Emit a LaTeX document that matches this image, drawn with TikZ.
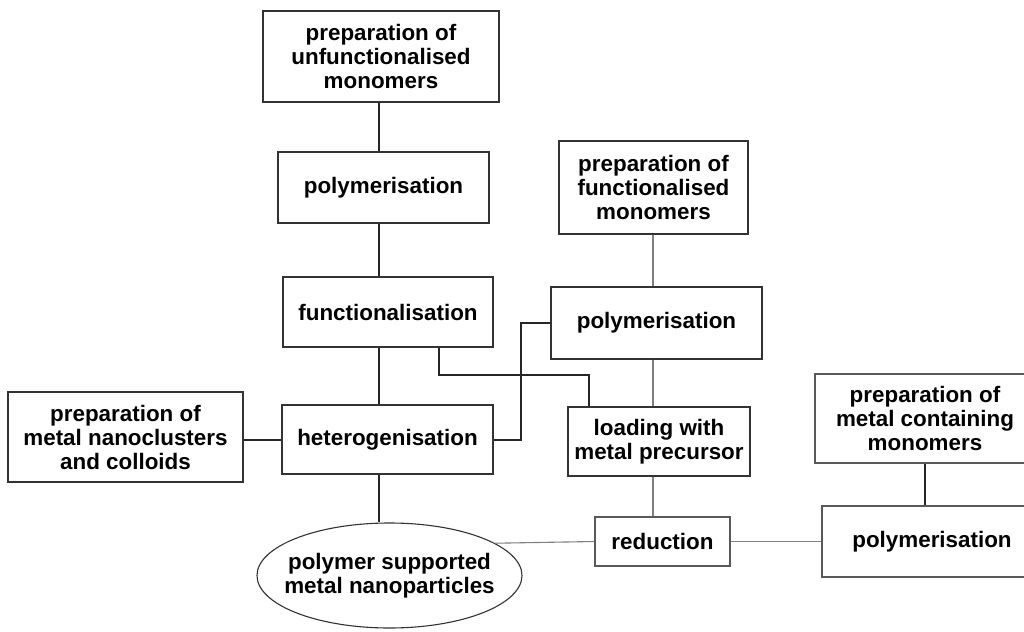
\documentclass[tikz,border=0pt]{standalone}
\usepackage{fontspec}
\setmainfont{Liberation Sans}
\usetikzlibrary{shapes.geometric}
\tikzset{
  box/.style={draw=black!80,line width=0.55pt,align=center,inner sep=0pt,font=\fontsize{11.2}{12}\selectfont\bfseries},
  link/.style={draw=black!85,line width=0.55pt},
  greylink/.style={draw=black!50,line width=0.55pt}
}
\begin{document}
\begin{tikzpicture}[x=0.5pt,y=-0.5pt]
\clip (0,0) rectangle (1024,632);
% left column
\node[box,minimum width=118pt,minimum height=45.5pt] (unfmono) at (381,56.5) {preparation of\\ unfunctionalised\\ monomers};
\node[box,minimum width=105.5pt,minimum height=35.5pt] (polyA) at (383.5,187.5) {polymerisation};
\node[box,minimum width=105pt,minimum height=35pt] (funcA) at (388,312) {functionalisation};
\node[box,minimum width=105.5pt,minimum height=34.5pt] (heterog) at (387.5,439.5) {heterogenisation};
\node[box,minimum width=117.5pt,minimum height=45pt] (nanocl) at (125.5,437) {preparation of\\ metal nanoclusters\\ and colloids};
\node[box,ellipse,inner xsep=-9pt,minimum width=132.5pt,minimum height=52.5pt] (psmn) at (389.5,575.5) {polymer supported\\ metal nanoparticles};
% middle column
\node[box,minimum width=94.5pt,minimum height=46.5pt] (funcmono) at (653.5,187.5) {preparation of\\ functionalised\\ monomers};
\node[box,minimum width=105.5pt,minimum height=36pt] (polyB) at (656.5,323) {polymerisation};
\node[box,minimum width=91pt,minimum height=34.5pt] (loading) at (659,441.5) {loading with\\ metal precursor};
\node[box,draw=black!65,minimum width=67.5pt,minimum height=24.5pt] (reduction) at (662.5,541.5) {reduction};
% right column, cut by the page edge
\node[box,draw=black!65,minimum width=110pt,minimum height=44.5pt] (metalmono) at (925,418.5) {preparation of\\ metal containing\\ monomers};
\node[box,draw=black!65,minimum width=110pt,minimum height=35.5pt] (polyC) at (932,541.5) {polymerisation};
% connectors
\coordinate (spine) at (379,0); \coordinate (midline) at (653,0);
\coordinate (cross1) at (439,375); \coordinate (cross2) at (589,375); \coordinate (cross3) at (521,440);
\draw[link] (unfmono.south -| spine) -- (polyA.north -| spine);
\draw[link] (polyA.south -| spine) -- (funcA.north -| spine);
\draw[link] (funcA.south -| spine) -- (heterog.north -| spine);
\draw[link] (heterog.south -| spine) -- (psmn.north -| spine);
\draw[link] (nanocl.east |- cross3) -- (heterog.west |- cross3);
\draw[link] (funcA.south -| cross1) -- (cross1) -- (cross2) -- (loading.north -| cross2);
\draw[link] (heterog.east |- cross3) -- (cross3) |- (polyB.west);
\draw[greylink] (funcmono.south -| midline) -- (polyB.north -| midline);
\draw[greylink] (polyB.south -| midline) -- (loading.north -| midline);
\draw[greylink] (loading.south -| midline) -- (reduction.north -| midline);
\draw[greylink] (reduction.west) -- (psmn.17);
\draw[greylink] (reduction.east) -- (polyC.west);
\draw[link] (metalmono.south) -- (metalmono.south |- polyC.north);
\end{tikzpicture}
\end{document}
